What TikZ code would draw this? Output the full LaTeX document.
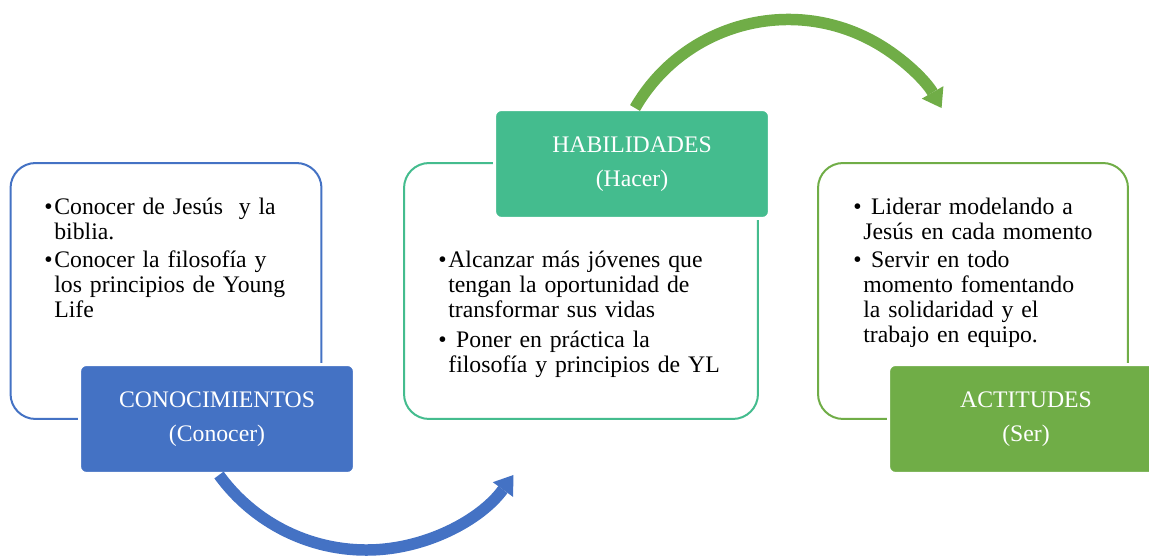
\documentclass[tikz,border=0pt]{standalone}
\usepackage{fontspec}
\setmainfont{Liberation Serif}
\usetikzlibrary{arrows.meta,calc}
\definecolor{sablue}{HTML}{4472C4}
\definecolor{sateal}{HTML}{44BC8E}
\definecolor{sagreen}{HTML}{70AD47}
\newcommand{\blt}{\makebox[0.2cm][l]{\textbullet}}
\newcommand{\listind}{\hspace*{0.2cm}}
\tikzset{
  framebox/.style={draw, fill=white, rounded corners=0.5cm, line width=0.04cm, minimum height=5.12cm},
  tagbox/.style={draw=white, line width=0.06cm, rounded corners=0.14cm, minimum width=5.5cm, minimum height=2.18cm, text=white, align=center, font=\fontsize{13.5pt}{14.2pt}\selectfont},
  listtext/.style={anchor=base west, inner sep=0pt, text width=6.5cm, align=left, font=\fontsize{13.5pt}{14.2pt}\selectfont},
  cyclearrow/.style={line width=0.23cm, -{Triangle[length=0.36cm, width=0.5cm, line width=0pt]}}
}
\begin{document}
\begin{tikzpicture}[x=0.02cm, y=0.02cm]
  \useasboundingbox (0,0) rectangle (1149,557);
  \node[framebox, draw=sablue, minimum width=6.22cm] (frame1) at (166,266) {};
  \node[framebox, draw=sateal, minimum width=7.08cm] (frame2) at (581,266) {};
  \node[framebox, draw=sagreen, minimum width=6.2cm] (frame3) at (973,266) {};
  \node[tagbox, fill=sablue] (tag1) at (217,138) {CONOCIMIENTOS\\[5pt](Conocer)};
  \node[tagbox, fill=sateal] (tag2) at (632,393) {HABILIDADES\\[5pt](Hacer)};
  \node[tagbox, fill=sagreen] (tag3) at (1026,138) {ACTITUDES\\[5pt](Ser)};
  \draw[cyclearrow, sablue] ($(tag1.south)+(2,0)$) arc[start angle=216, end angle=324, radius=182];
  \draw[cyclearrow, sagreen] ($(tag2.north)+(3,0)$) arc[start angle=150, end angle=30, radius=177];
  \node[listtext] (list1) at (44,342) {\blt Conocer de Jesús~ y la\\ \listind biblia.\\[0.06cm] \blt Conocer la filosofía y\\ \listind los principios de Young\\ \listind Life};
  \node[listtext] (list2) at (438,289) {\blt Alcanzar más jóvenes que\\ \listind tengan la oportunidad de\\ \listind transformar sus vidas\\[0.1cm] \blt\ Poner en práctica la\\ \listind filosofía y principios de YL};
  \node[listtext] (list3) at (853,342) {\blt\ Liderar modelando a\\ \listind Jesús en cada momento\\[0.06cm] \blt\ Servir en todo\\ \listind momento fomentando\\ \listind la solidaridad y el\\ \listind trabajo en equipo.};
\end{tikzpicture}
\end{document}
